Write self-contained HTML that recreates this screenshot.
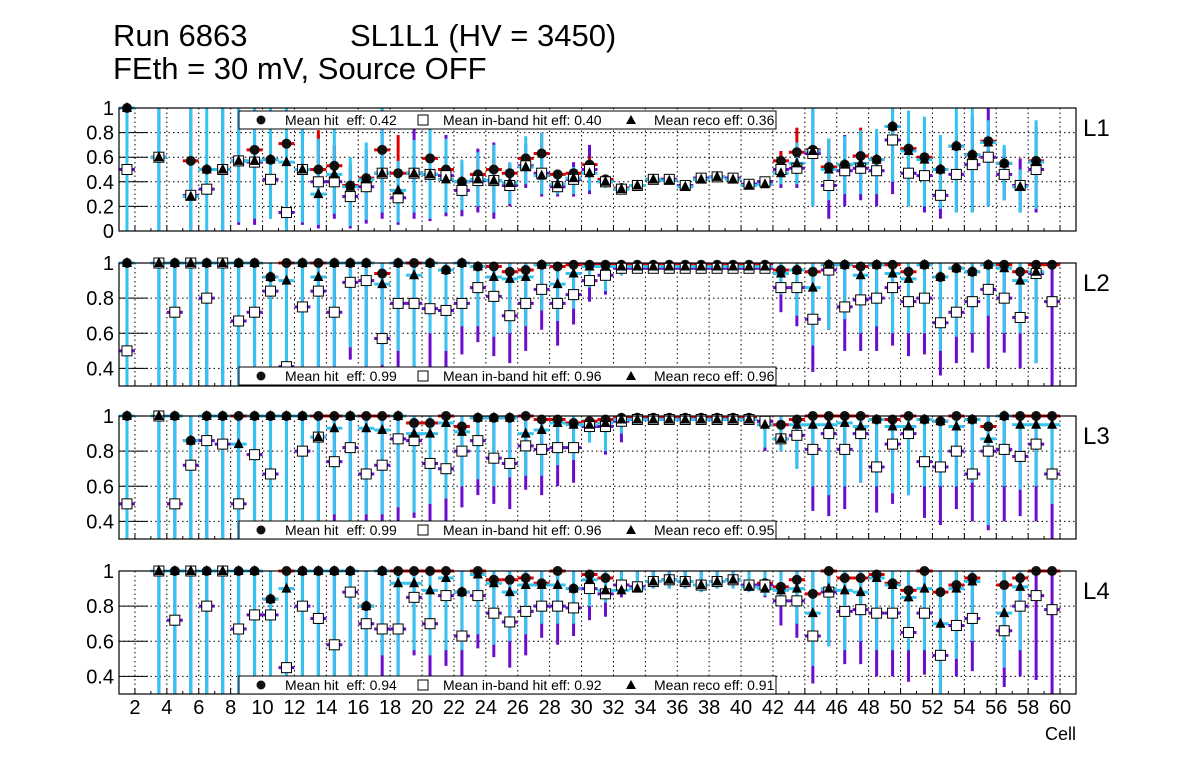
<!DOCTYPE html>
<html><head><meta charset="utf-8">
<style>
html,body{margin:0;padding:0;background:#fff;}
svg{display:block;font-family:"Liberation Sans",Arial,sans-serif;}
</style></head>
<body>
<svg id="chart" width="1196" height="772" viewBox="0 0 1196 772" xmlns="http://www.w3.org/2000/svg">
<rect x="0" y="0" width="1196" height="772" fill="#fff"/>
<text x="113" y="46" font-size="31">Run 6863</text>
<text x="350" y="46" font-size="31">SL1L1 (HV = 3450)</text>
<text x="113" y="79" font-size="31">FEth = 30 mV, Source OFF</text>
<text x="1076" y="740" font-size="18" text-anchor="end">Cell</text>
<g id="plots"></g>
</svg>
<script>
// ---------- data (cells 1..59) ----------
const layers = ["L1","L2","L3","L4"];
const meanHit = ["0.42","0.99","0.99","0.94"];
const meanInb = ["0.40","0.96","0.96","0.92"];
const meanReco = ["0.36","0.96","0.95","0.91"];
const yTicks1 = [0,0.2,0.4,0.6,0.8,1];
const yTicks2 = [0.4,0.6,0.8,1];
const xTicks = [2,4,6,8,10,12,14,16,18,20,22,24,26,28,30,32,34,36,38,40,42,44,46,48,50,52,54,56,58,60];

const hit1 = [1,null,.6,null,.57,.5,.5,.57,.66,.58,.71,.5,.5,.53,.37,.43,.66,.47,.47,.59,.5,.4,.46,.5,.47,.59,.63,.46,.47,.54,.42,.35,.37,.42,.42,.37,.43,.44,.43,.38,.4,.57,.64,.66,.52,.54,.61,.58,.85,.67,.6,.5,.69,.62,.73,.55,.37,.57,null];
const inb1 = [.5,null,.6,null,.29,.34,.5,.57,.56,.42,.15,.5,.4,.4,.28,.36,.47,.27,.47,.46,.45,.33,.41,.41,.37,.53,.47,.36,.42,.5,.4,.34,.37,.42,.42,.37,.43,.44,.43,.38,.4,.5,.51,.63,.37,.49,.51,.49,.74,.47,.45,.29,.46,.54,.6,.46,.37,.5,null];
const reco1 = [1,null,.6,null,.28,.5,.5,.57,.57,.58,.56,.5,.3,.46,.36,.42,.47,.33,.47,.46,.42,.4,.42,.41,.39,.52,.45,.38,.43,.47,.4,.34,.37,.42,.41,.36,.42,.44,.42,.37,.38,.47,.55,.65,.5,.54,.55,.58,.85,.65,.58,.5,.69,.62,.72,.55,.36,.56,null];
const recoLo1 = [0,null,0,null,0,0,0,.07,.1,.1,0,.07,.05,.14,.04,.09,.15,.07,.15,.1,.15,.17,.2,.15,.22,.38,.3,.3,.3,.33,.35,.32,.35,.4,.39,.34,.4,.42,.4,.35,.36,.38,.38,.2,.25,.3,.3,.3,.4,.2,.2,.18,.15,.15,.2,.25,.15,.18,null];
const recoHi1 = [1,null,1,null,1,1,1,1,1,1,1,.9,.75,.9,.6,.72,1,.57,.74,.9,.75,.58,.64,.7,.56,.77,.8,.48,.52,.58,.43,.36,.39,.44,.43,.38,.44,.46,.44,.39,.4,.6,.72,1,.75,.77,.82,.83,1,.98,.93,.78,1,1,.9,.7,.5,.9,null];
const inbLo1 = [null,null,0,null,0,.3,0,.05,.05,.1,0,.05,.02,.1,.02,.06,.1,.05,.1,.08,.12,.12,.15,.1,.2,.35,.28,.28,.28,.3,.35,.32,.35,.4,.39,.34,.4,.42,.4,.35,.36,.35,.35,.2,.1,.2,.25,.2,.3,.2,.15,.1,.15,.15,.2,.25,.15,.15,null];
const hitHi1 = [1,null,.6,null,1,.5,.5,.57,.7,.6,.75,.5,.82,.7,.4,.45,.7,.78,.5,.62,.6,.45,.57,.6,.55,.62,.8,.47,.5,.6,.43,.36,.38,.43,.43,.38,.44,.45,.44,.39,.41,.65,.84,.7,.75,.56,.84,.6,.9,.7,.78,.55,.72,.64,.75,.56,.37,.58,null];

const hit2 = [1,null,1,1,1,1,1,1,1,.92,1,1,1,1,1,1,.94,1,1,1,.96,1,.98,.98,.95,.96,.99,.98,.99,.99,.99,.99,.99,.99,.99,.99,.99,.99,.99,.99,.99,.96,.96,.95,.99,.99,.98,.99,.99,.95,.99,.92,.97,.95,.99,.99,.95,.99,.99];
const inb2 = [.5,null,1,.72,1,.8,1,.67,.72,.84,.41,.75,.84,.72,.89,.9,.57,.77,.77,.74,.73,.77,.86,.81,.7,.77,.85,.77,.82,.9,.93,.97,.97,.97,.97,.97,.97,.97,.97,.97,.97,.86,.86,.68,.96,.75,.79,.8,.86,.78,.8,.66,.72,.78,.85,.8,.69,.94,.78];
const reco2 = [1,null,1,1,1,1,1,1,1,.92,.9,1,.92,1,1,1,.88,1,.93,1,.96,1,.98,.92,.91,.92,.99,.88,.94,.98,.98,.98,.98,.98,.98,.98,.98,.98,.98,.98,.98,.94,.96,.86,.99,.99,.93,.99,.94,.91,.99,.92,.97,.95,.99,.97,.9,.95,null];
const recoLo2 = [0,null,0,0,0,0,0,0,0,0,0,0,0,0,.52,0,.42,.5,0,.6,.5,.64,.64,.58,.6,.64,.73,.67,.74,.86,.84,.93,.95,.95,.95,.95,.95,.95,.95,.95,.95,.82,.7,.53,.62,.68,.6,.64,.6,.6,.6,.5,.58,.6,.7,.6,.6,.43,0];
const inbLo2 = [0,null,0,0,0,0,0,0,0,0,0,0,0,0,.45,0,.3,0,0,.38,.35,.48,.55,.47,.43,.5,.62,.53,.65,.78,.82,.93,.95,.95,.95,.95,.95,.95,.95,.95,.95,.72,.64,.38,.62,.5,.5,.5,.53,.47,.48,.36,.43,.49,.4,.49,.4,.43,0];

const hit3 = [1,null,1,1,.86,1,1,1,1,1,1,1,1,1,1,1,1,1,.96,.96,1,.94,.99,.99,.99,1,.98,.98,.96,.97,.98,.99,.99,.99,.99,.99,.99,.99,.99,.99,.97,.95,.98,1,1,1,1,.98,.98,1,.98,.97,1,.98,.94,1,1,1,1];
const inb3 = [.5,null,1,.5,.72,.86,.84,.5,.78,.67,.2,.8,.88,.74,.82,.67,.72,.87,.86,.73,.7,.8,.86,.76,.73,.83,.81,.82,.82,.94,.94,.97,.98,.98,.98,.98,.98,.98,.98,.98,.97,.87,.89,.81,.9,.81,.9,.71,.84,.9,.74,.71,.8,.67,.8,.81,.77,.84,.67];
const reco3 = [1,null,1,1,.86,1,1,.84,1,1,1,1,.88,.93,1,.93,.92,1,.9,.9,.96,.91,.99,.99,.99,.9,.92,.96,.95,.95,.96,.98,.98,.98,.98,.98,.98,.98,.98,.98,.95,.87,.95,.95,.95,.96,.94,.98,.94,.94,.98,.97,.94,.98,.87,1,.95,.95,.95];
const recoLo3 = [0,null,0,0,0,0,0,0,0,0,0,0,0,.44,0,.44,.44,.48,.45,.5,.53,.6,.64,.6,.65,.66,.66,.72,.75,.85,.8,.9,.95,.95,.95,.95,.95,.95,.95,.95,.82,.8,.7,.6,.55,.6,.62,.6,.56,.55,.6,.6,.6,.62,.38,.6,.58,.6,.5];
const inbLo3 = [0,null,0,0,0,0,0,0,0,0,0,0,0,0,0,0,0,0,.42,.3,.3,.48,.55,.5,.47,.58,.55,.6,.62,.85,.78,.85,.95,.95,.95,.95,.95,.95,.95,.95,.8,.8,.7,.46,.43,.47,.62,.45,.5,.55,.42,.38,.47,.4,.35,.4,.43,.4,.3];

const hit4 = [null,null,1,1,1,1,1,1,1,.84,1,1,1,1,1,.8,1,1,1,1,1,.88,1,.95,.95,.96,.93,1,.9,.98,.96,.92,.91,.94,.95,.94,.92,.94,.95,.92,.93,.91,.95,.87,1,.96,.96,.98,.93,.89,1,.88,.92,.96,null,.92,.96,1,1];
const inb4 = [null,null,1,.72,1,.8,1,.67,.75,.75,.45,.8,.73,.58,.88,.7,.67,.67,.85,.7,.86,.63,.86,.76,.71,.77,.8,.8,.79,.9,.87,.92,.91,.94,.95,.94,.92,.94,.95,.92,.92,.83,.83,.63,.88,.77,.78,.76,.76,.65,.76,.52,.69,.73,null,.66,.8,.86,.78];
const reco4 = [null,null,1,1,1,1,1,1,1,.84,.9,1,1,1,1,.8,1,.93,.93,.89,.96,.88,.98,.93,.88,.92,.92,.92,.9,.95,.89,.89,.9,.94,.95,.94,.92,.94,.95,.91,.9,.89,.9,.76,.9,.89,.88,.96,.92,.85,.9,.7,.9,.94,null,.76,.91,null,null];
const recoLo4 = [null,null,0,0,0,0,0,0,0,0,0,0,0,0,0,0,.52,.4,.55,.52,.55,.55,.64,.58,.6,.64,.7,.7,.7,.8,.82,.88,.88,.9,.9,.9,.88,.9,.9,.88,.86,.8,.7,.46,.57,.55,.6,.55,.55,.55,.55,0,.5,.6,null,.45,.55,.46,0];
const inbLo4 = [null,null,0,0,0,0,0,0,0,0,0,0,0,0,0,0,0,0,.52,0,.46,0,.56,.51,.45,.52,.62,.58,.63,.72,.74,.85,.88,.9,.9,.9,.88,.9,.9,.88,.85,.69,.62,.36,.57,.47,.47,.4,.4,.37,.41,0,.4,.43,null,.34,.4,.38,0];

const hitS = [hit1,hit2,hit3,hit4];
const inbS = [inb1,inb2,inb3,inb4];
const recoS = [reco1,reco2,reco3,reco4];
const recoLoS = [recoLo1,recoLo2,recoLo3,recoLo4];
const inbLoS = [inbLo1,inbLo2,inbLo3,inbLo4];

// ---------- geometry ----------
const NS = "http://www.w3.org/2000/svg";
const X0 = 119, X1 = 1076;
const panels = [
  {top:108,bot:231,ymin:0,ymax:1,ticks:yTicks1},
  {top:263,bot:386,ymin:0.3,ymax:1,ticks:yTicks2},
  {top:416,bot:539,ymin:0.3,ymax:1,ticks:yTicks2},
  {top:571,bot:694,ymin:0.3,ymax:1,ticks:yTicks2}
];
const legendY = [111,367,521,676];
function xPos(v){ return X0 + (v-1)*15.95; }
function mk(tag, attrs, parent){
  const e = document.createElementNS(NS, tag);
  for (const k in attrs) e.setAttribute(k, attrs[k]);
  parent.appendChild(e);
  return e;
}
const root = document.getElementById('plots');

panels.forEach((p, pi) => {
  const yPos = v => p.bot - (v - p.ymin) / (p.ymax - p.ymin) * (p.bot - p.top);
  const clampY = v => Math.max(p.top, Math.min(p.bot, yPos(v)));
  const g = mk('g', {}, root);
  
  
  const clipId = 'clip' + pi;
  const cp = mk('clipPath', {id: clipId}, g);
  mk('rect', {x: X0, y: p.top, width: X1 - X0, height: p.bot - p.top}, cp);

  xTicks.forEach(t => {
    const l = mk('line', {x1: xPos(t), x2: xPos(t), y1: p.top, y2: p.bot, stroke: '#000', 'stroke-width': 1, 'stroke-dasharray': '1.5,3'}, g);
    
    
  });
  p.ticks.forEach(t => {
    if (t <= p.ymin || t >= p.ymax) return;
    const l = mk('line', {x1: X0, x2: X1, y1: yPos(t), y2: yPos(t), stroke: '#000', 'stroke-width': 1, 'stroke-dasharray': '1.5,3'}, g);
    
    
  });
  p.ticks.forEach(t => {
    const tk = mk('line', {x1: X0, x2: X0 + 29, y1: yPos(t), y2: yPos(t), stroke: '#000', 'stroke-width': 1}, g);
    
    
    const lb = mk('text', {x: X0 - 5, y: yPos(t) + 7, 'font-size': 20, 'text-anchor': 'end'}, g);
    lb.textContent = String(t);
    
    
  });

  const dg = mk('g', {'clip-path': 'url(#' + clipId + ')'}, g);
  
  
  const mg = mk('g', {}, g);
  
  
  const hit = hitS[pi], inb = inbS[pi], reco = recoS[pi], rlo = recoLoS[pi], ilo = inbLoS[pi];
  for (let i = 0; i < hit.length; i++) {
    const cx = xPos(i + 1.5);
    if (inb[i] != null && ilo[i] != null) {
      const top = pi === 0 ? inb[i] + (inb[i] - ilo[i]) : 1;
      const e = mk('line', {x1: cx, x2: cx, y1: clampY(ilo[i]), y2: clampY(Math.min(top, 1)), stroke: '#6a0dcc', 'stroke-width': 3}, dg);
      
      
    }
    if (pi === 0 && hit[i] != null) {
      const e = mk('line', {x1: cx, x2: cx, y1: clampY(hit[i]), y2: clampY(hitHi1[i]), stroke: '#d00', 'stroke-width': 3}, dg);
      
      
    }
    if (reco[i] != null && rlo[i] != null) {
      const hi = pi === 0 ? recoHi1[i] : 1;
      const e = mk('line', {x1: cx, x2: cx, y1: clampY(rlo[i]), y2: clampY(hi), stroke: '#33c4f0', 'stroke-width': 3}, dg);
      
      
    }
    if (hit[i] != null) {
      const h = mk('line', {x1: cx - 8, x2: cx + 8, y1: yPos(hit[i]), y2: yPos(hit[i]), stroke: '#d00', 'stroke-width': 3}, mg);
      
      
    }
    if (inb[i] != null && inb[i] >= p.ymin) {
      const h = mk('line', {x1: cx - 8, x2: cx + 8, y1: yPos(inb[i]), y2: yPos(inb[i]), stroke: '#6a0dcc', 'stroke-width': 3}, mg);
      
      
    }
    if (reco[i] != null) {
      const h = mk('line', {x1: cx - 8, x2: cx + 8, y1: yPos(reco[i]), y2: yPos(reco[i]), stroke: '#33c4f0', 'stroke-width': 3}, mg);
      
      
    }
    if (hit[i] != null) {
      const c = mk('circle', {cx: cx, cy: yPos(hit[i]), r: 5, fill: '#111'}, mg);
      
      
    }
    if (inb[i] != null && inb[i] >= p.ymin) {
      const b = mk('rect', {x: cx - 5, y: yPos(inb[i]) - 5, width: 10, height: 10, fill: '#fff', stroke: '#000', 'stroke-width': 1}, mg);
      
      
    }
    if (reco[i] != null) {
      const yy = yPos(reco[i]);
      const t = mk('polygon', {points: (cx - 5) + ',' + (yy + 4) + ' ' + (cx + 5) + ',' + (yy + 4) + ' ' + cx + ',' + (yy - 6), fill: '#000'}, mg);
      
      
    }
  }
  for (let v = 1; v <= 61; v++) {
    const major = v % 2 === 0;
    const tk = mk('line', {x1: xPos(v), x2: xPos(v), y1: p.bot, y2: p.bot - (major ? 6 : 3), stroke: '#000', 'stroke-width': 1}, g);
    
    
  }
  const fr = mk('rect', {x: X0, y: p.top, width: X1 - X0, height: p.bot - p.top, fill: 'none', stroke: '#000', 'stroke-width': 1.2}, g);
  
  
  const ll = mk('text', {x: 1083, y: p.top + 28, 'font-size': 24}, g);
  ll.textContent = layers[pi];
  
  
  const ly = legendY[pi];
  const lg = mk('g', {}, g);
  
  
  mk('rect', {x: 239, y: ly, width: 537, height: 18, fill: '#fff', stroke: '#000', 'stroke-width': 1}, lg);
  const ymid = ly + 9;
  const lc = mk('circle', {cx: 261, cy: ymid, r: 4.5, fill: '#111'}, lg);
  
  
  const t1 = mk('text', {x: 285, y: ymid + 5, 'font-size': 14}, lg);
  t1.textContent = 'Mean hit\u00a0\u00a0eff: ' + meanHit[pi];
  
  
  const lb2 = mk('rect', {x: 418, y: ymid - 5, width: 10, height: 10, fill: '#fff', stroke: '#000'}, lg);
  
  
  const t2 = mk('text', {x: 443, y: ymid + 5, 'font-size': 14}, lg);
  t2.textContent = 'Mean in-band hit eff: ' + meanInb[pi];
  
  
  const lt = mk('polygon', {points: '626,' + (ymid + 4) + ' 636,' + (ymid + 4) + ' 631,' + (ymid - 5), fill: '#000'}, lg);
  
  
  const t3 = mk('text', {x: 654, y: ymid + 5, 'font-size': 14}, lg);
  t3.textContent = 'Mean reco eff: ' + meanReco[pi];
  
  
});

xTicks.forEach(t => {
  const lb = mk('text', {x: xPos(t), y: 714, 'font-size': 20, 'text-anchor': 'middle'}, root);
  lb.textContent = String(t);
  
  
});
</script>
</body></html>
